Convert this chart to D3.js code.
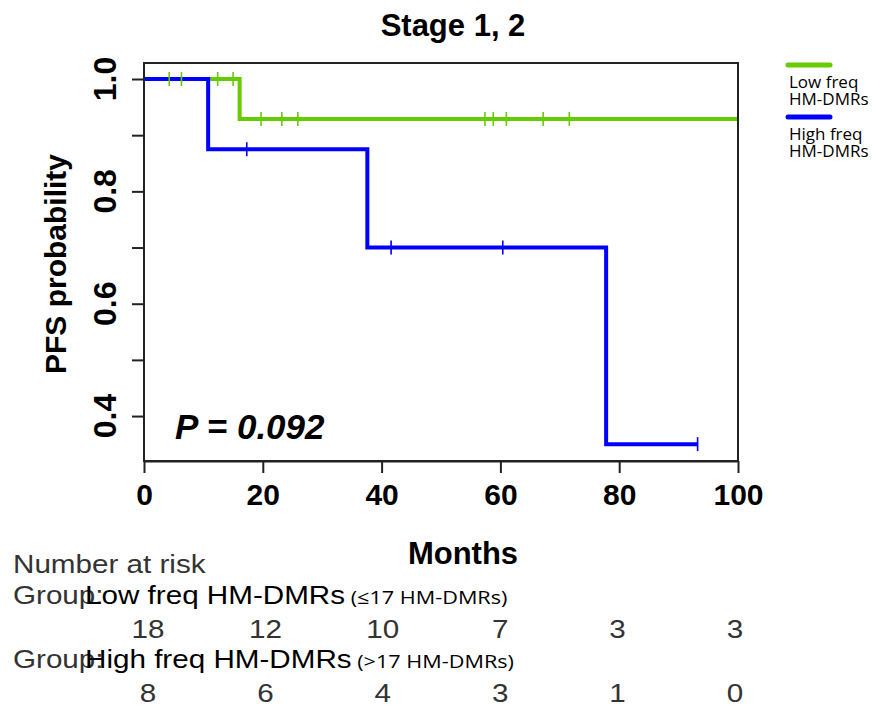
<!DOCTYPE html>
<html>
<head>
<meta charset="utf-8">
<script src="https://cdn.jsdelivr.net/npm/d3@7"></script>
<style>
  body { margin: 0; background: #fff; }
  svg { display: block; }
</style>
</head>
<body>
<div id="chart"></div>
<script>
// Low freq HM-DMRs curve (step changes), end of follow-up and censor marks
var lowTimes = [0, 16.1];
var lowSurv = [1.0, 0.929];
var lowEnd = 100;
var lowCensor = [4.25, 6.3, 12.4, 15.0];
var lowCensor2 = [19.7, 23.2, 25.9, 57.4, 58.8, 61.0, 67.2, 71.6];

// High freq HM-DMRs curve
var highTimes = [0, 10.8, 37.6, 77.8];
var highSurv = [1.0, 0.875, 0.70, 0.35];
var highEnd = 93.2;
var highCensor = [17.3, 41.6, 60.4, 93.2];

// axes
var xTicks = [0, 20, 40, 60, 80, 100];
var yTicks = [0.4, 0.5, 0.6, 0.7, 0.8, 0.9, 1.0];
var yLabels = [0.4, 0.6, 0.8, 1.0];

// number at risk table
var riskTimes = [0, 20, 40, 60, 80, 100];
var lowRisk = [18, 12, 10, 7, 3, 3];
var highRisk = [8, 6, 4, 3, 1, 0];

function init() {
    const w = 882;
    const h = 706;
    const green = "#66cc00";
    const blue = "#0000ff";
    const boldFont = "'Liberation Sans', Arial, sans-serif";

    var svg = d3.select("#chart")
        .append("svg")
        .attr("width", w)
        .attr("height", h);

    // plot region
    var left = 144, right = 738, top = 63, bottom = 461;

    var x = d3.scaleLinear().domain([0, 100]).range([left, right]);
    var y = d3.scaleLinear().domain([0.32, 1.0285]).range([bottom, top]);
    // the risk table was laid out a little narrower than the plot
    var riskX = d3.scaleLinear().domain([0, 100]).range([148, 735]);

    svg.append("defs").append("clipPath").attr("id", "clip")
        .append("rect")
        .attr("x", left).attr("y", top)
        .attr("width", right - left).attr("height", bottom - top);

    // curves
    function steps(times, surv, end) {
        var pts = times.map((t, i) => [t, surv[i]]);
        pts.push([end, surv[surv.length - 1]]);
        return pts;
    }

    var line = d3.line()
        .x(d => x(d[0]))
        .y(d => y(d[1]))
        .curve(d3.curveStepAfter);

    var curves = svg.append("g").attr("clip-path", "url(#clip)");

    curves.append("path")
        .attr("d", line(steps(lowTimes, lowSurv, lowEnd)))
        .attr("fill", "none")
        .attr("stroke", green)
        .attr("stroke-width", 4);

    curves.append("path")
        .attr("d", line(steps(highTimes, highSurv, highEnd)))
        .attr("fill", "none")
        .attr("stroke", blue)
        .attr("stroke-width", 4);

    // survival value at time t for a step curve
    function survAt(times, surv, t) {
        var i = d3.bisectRight(times, t) - 1;
        return surv[Math.max(0, i)];
    }

    function censorMarks(data, times, surv, color) {
        svg.append("g").selectAll("line")
            .data(data)
            .enter()
            .append("line")
            .attr("x1", d => x(d))
            .attr("x2", d => x(d))
            .attr("y1", d => y(survAt(times, surv, d)) - 7)
            .attr("y2", d => y(survAt(times, surv, d)) + 7)
            .attr("stroke", color)
            .attr("stroke-width", 1.6);
    }
    censorMarks(lowCensor.concat(lowCensor2), lowTimes, lowSurv, green);
    censorMarks(highCensor, highTimes, highSurv, blue);

    // box
    svg.append("rect")
        .attr("x", left).attr("y", top)
        .attr("width", right - left).attr("height", bottom - top)
        .attr("fill", "none")
        .attr("stroke", "#222")
        .attr("stroke-width", 2);

    // x axis
    var xAxis = svg.append("g")
        .attr("transform", "translate(0," + bottom + ")")
        .call(d3.axisBottom(x).tickValues(xTicks).tickSize(12).tickSizeOuter(0).tickFormat(d3.format("d")));
    xAxis.select(".domain").attr("stroke", "#222").attr("stroke-width", 2);
    xAxis.selectAll(".tick line").attr("stroke", "#222").attr("stroke-width", 2);
    xAxis.selectAll(".tick text")
        .attr("y", 44)
        .attr("dy", 0)
        .attr("fill", "#000")
        .style("font-family", boldFont)
        .style("font-weight", "bold")
        .style("font-size", "30px");

    // y axis
    var yAxis = svg.append("g")
        .attr("transform", "translate(" + left + ",0)")
        .call(d3.axisLeft(y).tickValues(yTicks).tickSize(12).tickSizeOuter(0).tickFormat(""));
    yAxis.select(".domain").remove();
    yAxis.selectAll(".tick line").attr("stroke", "#222").attr("stroke-width", 2);

    svg.append("g").selectAll("text")
        .data(yLabels)
        .enter()
        .append("text")
        .attr("transform", d => "translate(116," + y(d) + ") rotate(-90)")
        .attr("text-anchor", "middle")
        .style("font-family", boldFont)
        .style("font-weight", "bold")
        .style("font-size", "32px")
        .text(d => d3.format(".1f")(d));

    // titles
    svg.append("text")
        .attr("x", 453).attr("y", 36)
        .attr("text-anchor", "middle")
        .style("font-family", boldFont)
        .style("font-weight", "bold")
        .style("font-size", "31px")
        .text("Stage 1, 2");

    svg.append("text")
        .attr("x", 463).attr("y", 564)
        .attr("text-anchor", "middle")
        .style("font-family", boldFont)
        .style("font-weight", "bold")
        .style("font-size", "31px")
        .text("Months");

    svg.append("text")
        .attr("transform", "translate(66,264) rotate(-90)")
        .attr("text-anchor", "middle")
        .style("font-family", boldFont)
        .style("font-weight", "bold")
        .style("font-size", "30px")
        .text("PFS probability");

    svg.append("text")
        .attr("x", 175).attr("y", 439)
        .style("font-family", boldFont)
        .style("font-weight", "bold")
        .style("font-style", "italic")
        .style("font-size", "35px")
        .text("P = 0.092");

    // legend
    var legend = [
        { color: green, y: 65, lines: ["Low freq", "HM-DMRs"], ty: 88 },
        { color: blue, y: 117, lines: ["High freq", "HM-DMRs"], ty: 140 }
    ];
    legend.forEach(l => {
        svg.append("line")
            .attr("x1", 788).attr("x2", 830)
            .attr("y1", l.y).attr("y2", l.y)
            .attr("stroke", l.color)
            .attr("stroke-width", 5)
            .attr("stroke-linecap", "round");
        l.lines.forEach((s, i) => {
            svg.append("text")
                .attr("x", 789).attr("y", l.ty + i * 17)
                .style("font-family", "'Open Sans', sans-serif")
                .style("font-size", "17px")
                .text(s);
        });
    });

    // number at risk
    function riskText(tx, ty, str, color, anchor) {
        return svg.append("text")
            .attr("transform", "translate(" + tx + "," + ty + ") scale(1.14,1)")
            .attr("text-anchor", anchor || "start")
            .attr("fill", color)
            .style("font-family", boldFont)
            .style("font-size", "26px")
            .text(str);
    }

    riskText(13, 573, "Number at risk", "#333");

    var groups = [
        { name: "Low freq HM-DMRs", note: " (≤17 HM-DMRs)", risk: lowRisk, ty: 604 },
        { name: "High freq HM-DMRs", note: " (>17 HM-DMRs)", risk: highRisk, ty: 668 }
    ];
    groups.forEach(g => {
        riskText(13, g.ty, "Group:", "#333");
        var t = riskText(85, g.ty, g.name, "#000");
        t.append("tspan")
            .style("font-family", "'Open Sans', sans-serif")
            .style("font-size", "19px")
            .text(g.note);

        svg.append("g").selectAll("text")
            .data(g.risk)
            .enter()
            .append("text")
            .attr("transform", (d, i) => "translate(" + riskX(riskTimes[i]) + "," + (g.ty + 34) + ") scale(1.14,1)")
            .attr("text-anchor", "middle")
            .attr("fill", "#333")
            .style("font-family", boldFont)
            .style("font-size", "26px")
            .text(d => d);
    });
}
window.onload = init;
</script>
</body>
</html>
